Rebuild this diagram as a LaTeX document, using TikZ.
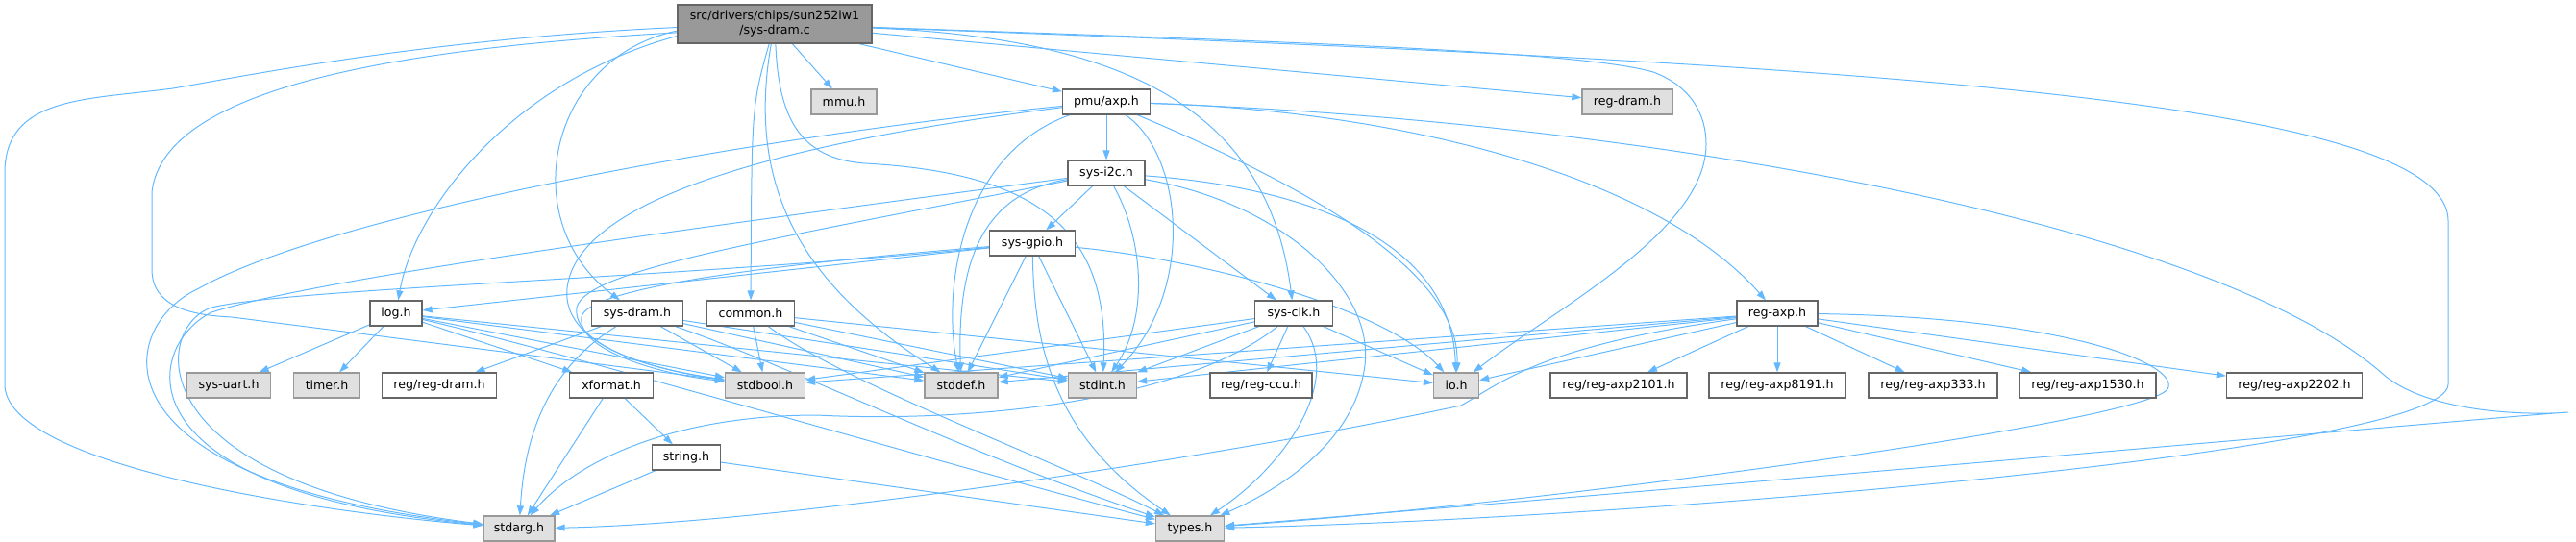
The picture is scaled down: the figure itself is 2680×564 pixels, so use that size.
\documentclass[tikz,border=0pt]{standalone}
\usepackage{fontspec}
\setmainfont{DejaVu Sans}
\usetikzlibrary{arrows.meta,backgrounds}
\definecolor{edgeblue}{HTML}{63B8FF}
\definecolor{grey40}{HTML}{666666}
\definecolor{grey60}{HTML}{999999}
\definecolor{grey88}{HTML}{E0E0E0}
\begin{document}
\begin{tikzpicture}[x=1pt,y=-1pt,>={Triangle[length=10pt,width=7pt]},
    every node/.style={font=\fontsize{12.6}{15}\selectfont,inner sep=0pt,minimum height=26pt,line width=1.3pt},
    hdr/.style={draw=grey40,fill=white},
    sysh/.style={draw=grey60,fill=grey88},
    rootbox/.style={draw=grey40,fill=grey60,minimum height=40pt,align=center},
    dep/.style={->,draw=edgeblue,line width=1pt}]
  \useasboundingbox (0,0) rectangle (2680,564);
  \node[rootbox,minimum width=202pt](root) at (806,25){src/drivers/chips/sun252iw1\\/sys-dram.c};
  \node[sysh,minimum width=68pt](mmu) at (878,106){mmu.h};
  \node[hdr,minimum width=91pt](pmu) at (1151,106){pmu/axp.h};
  \node[sysh,minimum width=94pt](regdram) at (1693,106){reg-dram.h};
  \node[hdr,minimum width=80pt](sysi2c) at (1151,180){sys-i2c.h};
  \node[hdr,minimum width=89pt](sysgpio) at (1074,253){sys-gpio.h};
  \node[hdr,minimum width=54pt](log) at (412,326){log.h};
  \node[hdr,minimum width=95pt](sysdram) at (663,326){sys-dram.h};
  \node[hdr,minimum width=91pt](common) at (781,326){common.h};
  \node[hdr,minimum width=81pt](sysclk) at (1346,326){sys-clk.h};
  \node[hdr,minimum width=84pt](regaxp) at (1849,326){reg-axp.h};
  \node[sysh,minimum width=87pt](sysuart) at (238,401){sys-uart.h};
  \node[sysh,minimum width=69pt](timer) at (340,401){timer.h};
  \node[hdr,minimum width=119pt](regregdram) at (457,401){reg/reg-dram.h};
  \node[hdr,minimum width=87pt](xformat) at (636,401){xformat.h};
  \node[sysh,minimum width=83pt](stdbool) at (796,401){stdbool.h};
  \node[sysh,minimum width=76pt](stddef) at (1000,401){stddef.h};
  \node[sysh,minimum width=71pt](stdint) at (1147,401){stdint.h};
  \node[hdr,minimum width=106pt](regccu) at (1312,401){reg/reg-ccu.h};
  \node[sysh,minimum width=47pt](io) at (1515,401){io.h};
  \node[hdr,minimum width=142pt](axp2101) at (1684,401){reg/reg-axp2101.h};
  \node[hdr,minimum width=142pt](axp8191) at (1849,401){reg/reg-axp8191.h};
  \node[hdr,minimum width=134pt](axp333) at (2011,401){reg/reg-axp333.h};
  \node[hdr,minimum width=142pt](axp1530) at (2172,401){reg/reg-axp1530.h};
  \node[hdr,minimum width=141pt](axp2202) at (2387,401){reg/reg-axp2202.h};
  \node[hdr,minimum width=71pt](string) at (714,476){string.h};
  \node[sysh,minimum width=74pt](stdarg) at (540,550){stdarg.h};
  \node[sysh,minimum width=71pt](types) at (1238,550){types.h};
  \begin{pgfonlayer}{background}
  \begin{scope}[dep]
    \draw (root) -- (mmu);
    \draw (root) -- (pmu);
    \draw (root) -- (regdram);
    \draw (root) .. controls (1400,45) and (1650,55) .. (1720,75) .. controls (1760,90) and (1775,120) .. (1775,150) .. controls (1775,240) and (1620,320) .. (io);
    \draw (root) .. controls (1900,65) and (2547,100) .. (2547,230) -- (2547,400) .. controls (2547,470) and (1700,540) .. (types);
    \draw (root) .. controls (1180,40) and (1320,120) .. (sysclk);
    \draw (root) .. controls (810,120) and (830,165) .. (900,170) .. controls (1080,180) and (1155,240) .. (stdint);
    \draw (root) .. controls (775,200) and (840,300) .. (stddef);
    \draw (root) .. controls (782,110) .. (common);
    \draw (root.184) .. controls (570,60) and (535,230) .. (sysdram);
    \draw (root.187) .. controls (530,85) and (430,220) .. (log);
    \draw (root.182) .. controls (450,40) and (260,78) .. (180,92) .. controls (90,104) and (5,100) .. (5,180) -- (5,400) .. controls (5,480) and (300,530) .. (stdarg);
    \draw (root.185) .. controls (420,50) and (170,90) .. (158,200) -- (158,280) .. controls (158,320) and (200,328) .. (241,330) -- (stdbool);
    \draw (pmu) -- (sysi2c);
    \draw (pmu) .. controls (1450,115) and (1720,180) .. (regaxp);
    \draw (pmu) .. controls (1700,125) and (2300,230) .. (2480,390) .. controls (2530,432) and (2640,432) .. (2672,429) .. controls (2620,432) and (1800,505) .. (types);
    \draw (pmu) .. controls (800,140) and (350,220) .. (207,300) .. controls (120,340) and (90,500) .. (stdarg);
    \draw (pmu) .. controls (800,150) and (600,210) .. (590,300) .. controls (585,350) and (650,380) .. (stdbool);
    \draw (pmu) .. controls (1000,160) and (980,300) .. (stddef);
    \draw (pmu) .. controls (1230,160) and (1245,300) .. (stdint);
    \draw (pmu) .. controls (1350,190) and (1520,280) .. (io);
    \draw (sysi2c) -- (sysgpio);
    \draw (sysi2c) -- (sysclk);
    \draw (sysi2c) .. controls (1360,195) and (1510,250) .. (io);
    \draw (sysi2c) .. controls (1330,210) and (1430,300) .. (1420,380) .. controls (1410,460) and (1330,510) .. (types);
    \draw (sysi2c) .. controls (1190,250) and (1195,330) .. (stdint);
    \draw (sysi2c) .. controls (1030,200) and (995,260) .. (stddef);
    \draw (sysi2c) .. controls (700,240) and (330,290) .. (220,325) .. controls (150,360) and (120,510) .. (stdarg);
    \draw (sysi2c) .. controls (800,250) and (610,280) .. (600,320) .. controls (595,360) and (680,385) .. (stdbool);
    \draw (sysgpio) -- (log);
    \draw (sysgpio) .. controls (800,275) and (610,300) .. (605,330) .. controls (600,365) and (690,390) .. (stdbool);
    \draw (sysgpio) .. controls (700,290) and (300,300) .. (220,320) .. controls (160,340) and (140,500) .. (stdarg);
    \draw (sysgpio) -- (stddef);
    \draw (sysgpio) -- (stdint);
    \draw (sysgpio) .. controls (1076,350) and (1090,450) .. (types);
    \draw (sysgpio) .. controls (1250,270) and (1440,320) .. (io);
    \draw (log) -- (sysuart);
    \draw (log) -- (timer);
    \draw (log) -- (xformat);
    \draw (log) -- (stdbool);
    \draw (log) -- (stddef);
    \draw (log) -- (stdint);
    \draw (log) .. controls (600,370) and (900,460) .. (types);
    \draw (sysdram) -- (regregdram);
    \draw (sysdram) .. controls (560,390) and (545,470) .. (stdarg);
    \draw (sysdram) -- (stdbool);
    \draw (sysdram) -- (stddef);
    \draw (sysdram) -- (stdint);
    \draw (sysdram) .. controls (820,380) and (1000,470) .. (types);
    \draw (common) -- (stdbool);
    \draw (common) -- (stddef);
    \draw (common) -- (stdint);
    \draw (common) -- (io);
    \draw (common) .. controls (880,400) and (1100,480) .. (types);
    \draw (sysclk) -- (regccu);
    \draw (sysclk) -- (io);
    \draw (sysclk) -- (stdint);
    \draw (sysclk) -- (stddef);
    \draw (sysclk) -- (stdbool);
    \draw (sysclk) .. controls (1230,420) and (1000,440) .. (850,432) .. controls (700,432) and (600,480) .. (stdarg);
    \draw (sysclk) .. controls (1400,400) and (1330,490) .. (types);
    \draw (regaxp) -- (axp2101);
    \draw (regaxp) -- (axp8191);
    \draw (regaxp) -- (axp333);
    \draw (regaxp) -- (axp1530);
    \draw (regaxp) -- (axp2202);
    \draw (regaxp) -- (io);
    \draw (regaxp) -- (stdint);
    \draw (regaxp) -- (stddef);
    \draw (regaxp) -- (stdbool);
    \draw (regaxp) .. controls (1600,360) and (1560,400) .. (1520,422) .. controls (1250,480) and (800,545) .. (stdarg);
    \draw (regaxp) .. controls (2150,330) and (2270,380) .. (2255,405) .. controls (2230,440) and (1600,525) .. (types);
    \draw (xformat) -- (string);
    \draw (xformat) -- (stdarg);
    \draw (string) -- (stdarg);
    \draw (string) -- (types);
  \end{scope}
  \end{pgfonlayer}
\end{tikzpicture}
\end{document}
